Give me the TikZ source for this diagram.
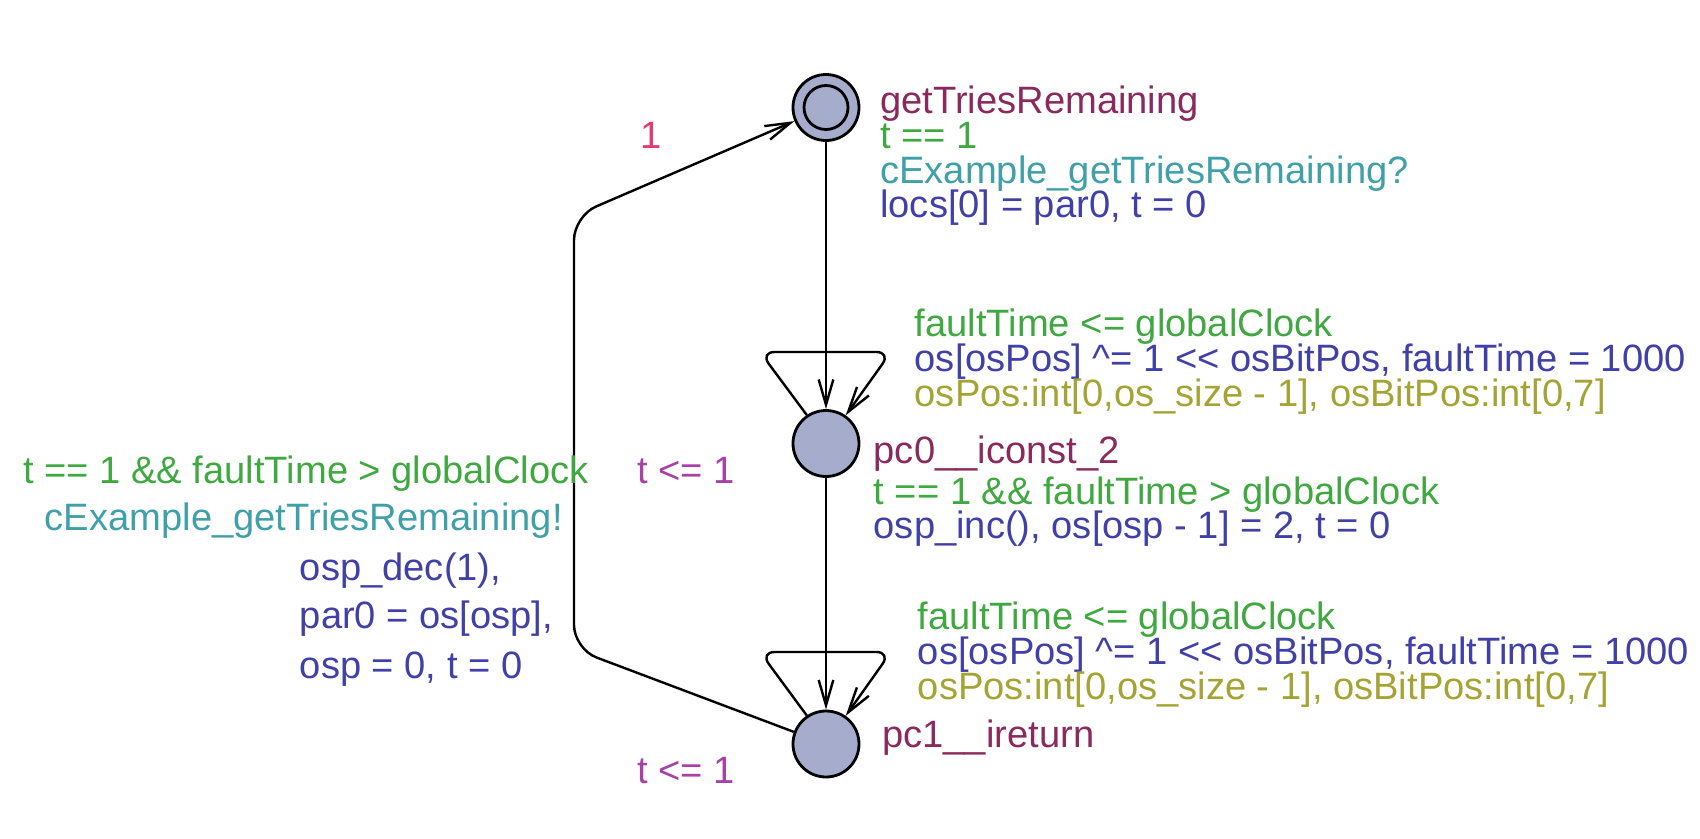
\documentclass[tikz,border=0pt]{standalone}
\usepackage{fontspec}
\setmainfont{Liberation Sans}
\usetikzlibrary{arrows.meta}
\definecolor{cname}{RGB}{138,42,92}
\definecolor{cguard}{RGB}{64,168,64}
\definecolor{csync}{RGB}{64,160,168}
\definecolor{cupd}{RGB}{64,64,168}
\definecolor{csel}{RGB}{164,164,52}
\definecolor{cinv}{RGB}{168,64,168}
\definecolor{cprob}{RGB}{232,56,112}
\definecolor{cfill}{RGB}{166,173,204}
\newcommand{\shl}{<\kern0pt<}
\begin{document}
\begin{tikzpicture}[x=0.75pt,y=-0.75pt,
  loc/.style={circle,draw=black,fill=cfill,line width=2.1pt,minimum size=49.5pt,inner sep=0pt},
  inner/.style={circle,draw=black,line width=2.1pt,minimum size=33pt,inner sep=0pt},
  edge/.style={draw=black,line width=1.8pt,-{Straight Barb[length=19pt,width=11pt]}},
  lab/.style={anchor=base west,inner sep=0pt,font=\fontsize{28.6pt}{30pt}\selectfont}]
\useasboundingbox (0,0) rectangle (1700,839);
% locations
\node[loc] (init) at (826,107.5) {};
\node[inner] (initin) at (826,107.5) {};
\node[loc] (pc0) at (826,443.5) {};
\node[loc] (pc1) at (826,744) {};
% coordinates
\coordinate (l0a) at (760,352);
\coordinate (l0b) at (891,352);
\coordinate (l1a) at (760,652);
\coordinate (l1b) at (891,652);
\coordinate (cb) at (574,649);
\coordinate (ct) at (574,216);
% edges
\draw[edge] (init) -- (pc0);
\draw[edge] (pc0) -- (pc1);
\draw[edge,rounded corners=11pt] (pc0.124) -- (l0a) -- (l0b) -- (pc0.55);
\draw[edge,rounded corners=11pt] (pc1.124) -- (l1a) -- (l1b) -- (pc1.55);
\draw[edge,rounded corners=18pt] (pc1) -- (cb) -- (ct) -- (init);
% init labels
\node[lab,text=cname] (n0) at (880,113.3) {getTriesRemaining};
\node[lab,text=cguard] (g0) at (880,148.3) {t == 1};
\node[lab,text=csync] (s0) at (880,183.3) {cExample\_getTriesRemaining?};
\node[lab,text=cupd] (u0) at (880,217.5) {locs[0] = par0, t = 0};
\node[lab,text=cprob] (p0) at (640,148.3) {1};
% pc0 loop
\node[lab,text=cguard] (g1) at (914.5,336.7) {faultTime <= globalClock};
\node[lab,text=cupd] (u1) at (914.5,371.7) {os[osPos] \textasciicircum= 1 \shl{} osBitPos, faultTime = 1000};
\node[lab,text=csel] (e1) at (914.5,406) {osPos:int[0,os\_size - 1], osBitPos:int[0,7]};
% pc0
\node[lab,text=cname] (n1) at (873.5,463) {pc0\_\_iconst\_2};
\node[lab,text=cinv] (i1) at (637,483) {t <= 1};
\node[lab,text=cguard] (g2) at (873.5,504) {t == 1 \&\& faultTime > globalClock};
\node[lab,text=cupd] (u2) at (873.5,538) {osp\_inc(), os[osp - 1] = 2, t = 0};
% pc1 loop
\node[lab,text=cguard] (g3) at (917.6,629) {faultTime <= globalClock};
\node[lab,text=cupd] (u3) at (917.6,664) {os[osPos] \textasciicircum= 1 \shl{} osBitPos, faultTime = 1000};
\node[lab,text=csel] (e3) at (917.6,699) {osPos:int[0,os\_size - 1], osBitPos:int[0,7]};
% pc1
\node[lab,text=cname] (n2) at (882,747) {pc1\_\_ireturn};
\node[lab,text=cinv] (i2) at (637,783) {t <= 1};
% return edge labels
\node[lab,text=cguard] (g4) at (23,483) {t == 1 \&\& faultTime > globalClock};
\node[lab,text=csync] (s4) at (44.6,530) {cExample\_getTriesRemaining!};
\node[lab,text=cupd] (u4a) at (299.6,580) {osp\_dec(1),};
\node[lab,text=cupd] (u4b) at (299.6,628) {par0 = os[osp],};
\node[lab,text=cupd] (u4c) at (299.6,678) {osp = 0, t = 0};
\end{tikzpicture}
\end{document}
